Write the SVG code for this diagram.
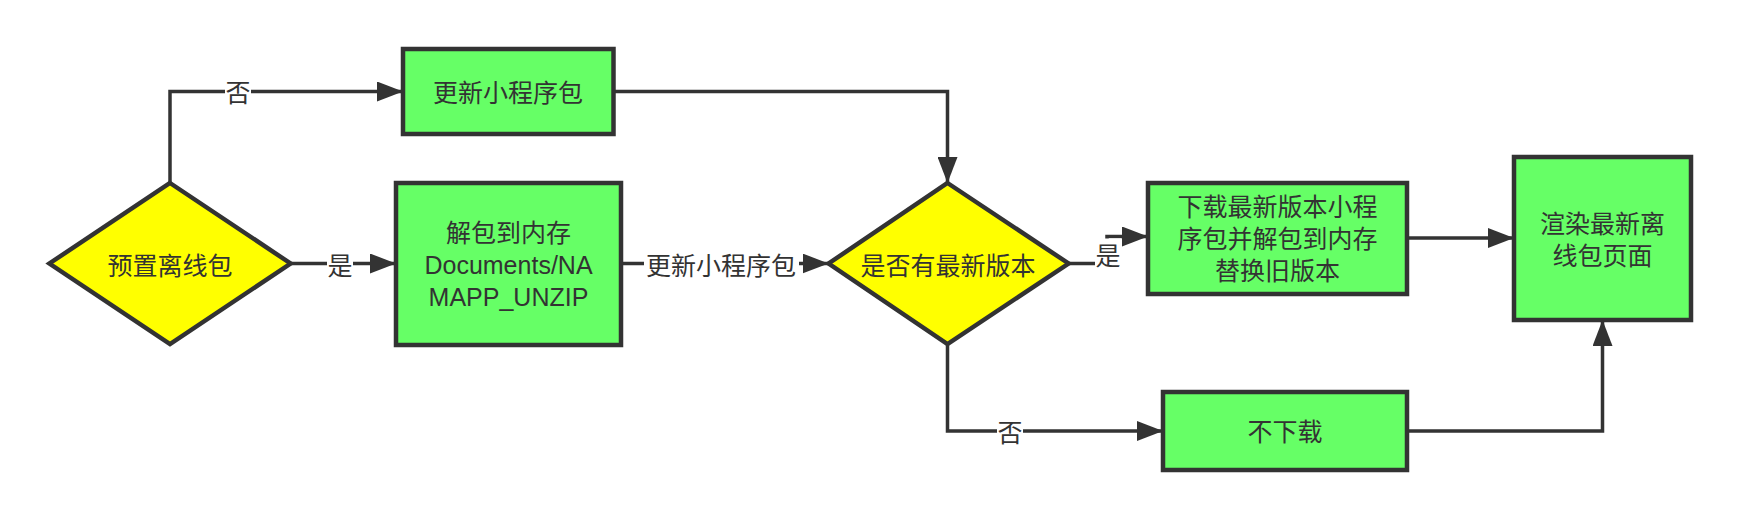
<svg xmlns="http://www.w3.org/2000/svg" width="1740" height="520" viewBox="0 0 1740 520">
<style>
.box{fill:#66ff66;stroke:#333333;stroke-width:4.5}
.dia{fill:#ffff00;stroke:#333333;stroke-width:4.5}
.t{font-family:"Liberation Sans","Noto Sans CJK SC",sans-serif;font-size:25px;fill:#333333;text-anchor:middle;dominant-baseline:central}
.e{fill:none;stroke:#333333;stroke-width:3.5}
.lb{fill:#ffffff}
</style>
<defs>
<marker id="arr" markerUnits="userSpaceOnUse" viewBox="0 0 26 20" refX="26" refY="10" markerWidth="26" markerHeight="20" orient="auto">
<path d="M0,0 L26,10 L0,20 z" fill="#333333"/>
</marker>
</defs>
<rect width="1740" height="520" fill="#ffffff"/>
<g id="connectors">
<path class="e" d="M170,183 V91.5 H403" marker-end="url(#arr)"/>
<path class="e" d="M290.6,263.5 H396" marker-end="url(#arr)"/>
<path class="e" d="M621,263.5 H828.6" marker-end="url(#arr)"/>
<path class="e" d="M613.5,91.5 H947.5 V183" marker-end="url(#arr)"/>
<path class="e" d="M1068.6,263.5 H1107 V236.5 H1148" marker-end="url(#arr)"/>
<path class="e" d="M947.5,343.5 V431 H1163" marker-end="url(#arr)"/>
<path class="e" d="M1407,238 H1514" marker-end="url(#arr)"/>
<path class="e" d="M1407,431 H1602.5 V320" marker-end="url(#arr)"/>
<g id="edge-labels">
<rect class="lb" x="225" y="79" width="26" height="26"/>
<text class="t" x="238" y="93">否</text>
<rect class="lb" x="327" y="253" width="26" height="26"/>
<text class="t" x="340" y="266">是</text>
<rect class="lb" x="644" y="252" width="155" height="28"/>
<text class="t" x="721" y="266">更新小程序包</text>
<rect class="lb" x="1095" y="238.5" width="26" height="30"/>
<text class="t" x="1108" y="256">是</text>
<rect class="lb" x="997" y="420" width="26" height="26"/>
<text class="t" x="1010" y="433">否</text>
</g>
</g>
<g id="node-preset">
<polygon class="dia" points="170,183 290.6,263.5 170,344 49.4,263.5"/>
<text class="t" x="170" y="266">预置离线包</text>
</g>
<g id="node-update">
<rect class="box" x="403" y="49" width="210.5" height="85"/>
<text class="t" x="508" y="93">更新小程序包</text>
</g>
<g id="node-unzip">
<rect class="box" x="396" y="183" width="225" height="162"/>
<text class="t" x="508.5" y="233">解包到内存</text>
<text class="t" x="508.5" y="265">Documents/NA</text>
<text class="t" x="508.5" y="297">MAPP_UNZIP</text>
</g>
<g id="node-check">
<polygon class="dia" points="947.5,183 1068.6,263.5 947.5,344 828.6,263.5"/>
<text class="t" x="948" y="266">是否有最新版本</text>
</g>
<g id="node-download">
<rect class="box" x="1148" y="183" width="259" height="111"/>
<text class="t" x="1277.5" y="207">下载最新版本小程</text>
<text class="t" x="1277.5" y="239">序包并解包到内存</text>
<text class="t" x="1277.5" y="271">替换旧版本</text>
</g>
<g id="node-render">
<rect class="box" x="1514" y="157" width="177" height="163"/>
<text class="t" x="1602.5" y="224">渲染最新离</text>
<text class="t" x="1602.5" y="256">线包页面</text>
</g>
<g id="node-nodownload">
<rect class="box" x="1163" y="392" width="244" height="78"/>
<text class="t" x="1285" y="432">不下载</text>
</g>
</svg>
